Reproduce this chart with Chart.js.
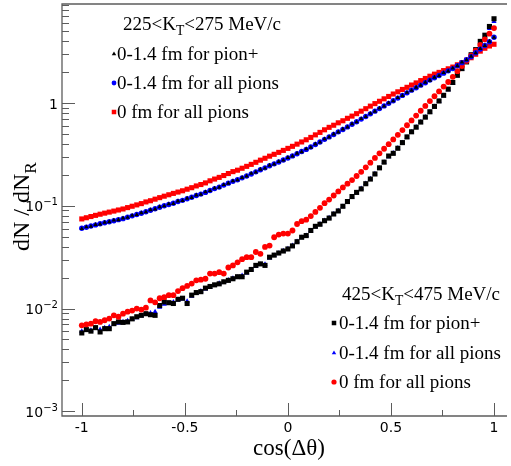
<!DOCTYPE html>
<html>
<head>
<meta charset="utf-8">
<script src="https://cdn.jsdelivr.net/npm/chart.js@4.4.0/dist/chart.umd.min.js"></script>
<style>
  html, body { margin: 0; padding: 0; background: #fff; }
</style>
</head>
<body>
<canvas id="myChart" width="511" height="466"></canvas>
<script>
// bin centres in cos(delta theta)
const cosBins = [
  -1.0000, -0.9778, -0.9556, -0.9333, -0.9111, -0.8889, -0.8667, -0.8444, -0.8222, -0.8000,
  -0.7778, -0.7556, -0.7333, -0.7111, -0.6889, -0.6667, -0.6444, -0.6222, -0.6000, -0.5778,
  -0.5556, -0.5333, -0.5111, -0.4889, -0.4667, -0.4444, -0.4222, -0.4000, -0.3778, -0.3556,
  -0.3333, -0.3111, -0.2889, -0.2667, -0.2444, -0.2222, -0.2000, -0.1778, -0.1556, -0.1333,
  -0.1111, -0.0889, -0.0667, -0.0444, -0.0222, 0.0000, 0.0222, 0.0444, 0.0667, 0.0889,
  0.1111, 0.1333, 0.1556, 0.1778, 0.2000, 0.2222, 0.2444, 0.2667, 0.2889, 0.3111,
  0.3333, 0.3556, 0.3778, 0.4000, 0.4222, 0.4444, 0.4667, 0.4889, 0.5111, 0.5333,
  0.5556, 0.5778, 0.6000, 0.6222, 0.6444, 0.6667, 0.6889, 0.7111, 0.7333, 0.7556,
  0.7778, 0.8000, 0.8222, 0.8444, 0.8667, 0.8889, 0.9111, 0.9333, 0.9556, 0.9778, 1.0000
];

// 225 < KT < 275 MeV/c
const lowKtPionPlus = [
  0.0598, 0.0622, 0.0630, 0.0656, 0.0662, 0.0690, 0.0697, 0.0722, 0.0728, 0.0757,
  0.0768, 0.0804, 0.0817, 0.0853, 0.0869, 0.0912, 0.0929, 0.0975, 0.0994, 0.104,
  0.105, 0.111, 0.112, 0.118, 0.120, 0.127, 0.129, 0.136, 0.140, 0.148,
  0.151, 0.160, 0.165, 0.174, 0.178, 0.188, 0.194, 0.206, 0.212, 0.226,
  0.232, 0.247, 0.254, 0.269, 0.277, 0.294, 0.304, 0.323, 0.335, 0.357,
  0.370, 0.398, 0.415, 0.446, 0.465, 0.498, 0.520, 0.557, 0.582, 0.626,
  0.653, 0.703, 0.735, 0.791, 0.828, 0.889, 0.932, 1.000, 1.047, 1.125,
  1.178, 1.265, 1.325, 1.419, 1.483, 1.589, 1.660, 1.775, 1.842, 1.968,
  2.042, 2.180, 2.296, 2.490, 2.625, 2.846, 3.070, 3.376, 3.608, 3.985, 4.336
];
const lowKtAllPions = [
  0.0604, 0.0619, 0.0635, 0.0652, 0.0668, 0.0684, 0.0700, 0.0716, 0.0733, 0.0750,
  0.0773, 0.0798, 0.0822, 0.0847, 0.0875, 0.0906, 0.0935, 0.0968, 0.100, 0.103,
  0.106, 0.110, 0.113, 0.117, 0.121, 0.126, 0.130, 0.135, 0.141, 0.147,
  0.152, 0.159, 0.166, 0.173, 0.179, 0.187, 0.195, 0.204, 0.214, 0.224,
  0.234, 0.245, 0.256, 0.267, 0.279, 0.292, 0.306, 0.321, 0.337, 0.354,
  0.373, 0.395, 0.418, 0.443, 0.468, 0.494, 0.524, 0.553, 0.586, 0.621,
  0.658, 0.698, 0.740, 0.785, 0.834, 0.883, 0.938, 0.993, 1.054, 1.117,
  1.186, 1.256, 1.334, 1.409, 1.493, 1.578, 1.671, 1.762, 1.854, 1.954,
  2.056, 2.163, 2.312, 2.472, 2.642, 2.825, 3.090, 3.350, 3.631, 3.954, 4.365
];
const lowKtZeroFm = [
  0.0745, 0.0765, 0.0786, 0.0807, 0.0828, 0.0848, 0.0868, 0.0888, 0.0910, 0.0931,
  0.0960, 0.0990, 0.102, 0.105, 0.109, 0.112, 0.116, 0.120, 0.124, 0.128,
  0.132, 0.136, 0.140, 0.145, 0.150, 0.156, 0.161, 0.167, 0.175, 0.182,
  0.189, 0.197, 0.206, 0.215, 0.222, 0.232, 0.242, 0.253, 0.265, 0.278,
  0.290, 0.304, 0.317, 0.331, 0.346, 0.362, 0.379, 0.398, 0.418, 0.439,
  0.463, 0.490, 0.518, 0.549, 0.580, 0.608, 0.642, 0.672, 0.710, 0.746,
  0.788, 0.833, 0.881, 0.933, 0.987, 1.040, 1.099, 1.159, 1.224, 1.286,
  1.356, 1.422, 1.497, 1.570, 1.653, 1.734, 1.823, 1.910, 1.987, 2.069,
  2.153, 2.239, 2.356, 2.472, 2.613, 2.760, 2.985, 3.199, 3.413, 3.590, 3.732
];

// 425 < KT < 475 MeV/c
const highKtPionPlus = [
  0.00579, 0.00624, 0.00603, 0.00652, 0.00592, 0.00637, 0.00637, 0.00713, 0.00741, 0.00733,
  0.00741, 0.00794, 0.00832, 0.00859, 0.00891, 0.00871, 0.00859, 0.0107, 0.0116, 0.0114,
  0.0112, 0.0123, 0.0126, 0.0112, 0.0135, 0.0143, 0.0146, 0.0158, 0.0164, 0.0170,
  0.0174, 0.0182, 0.0188, 0.0195, 0.0204, 0.0204, 0.0226, 0.0240, 0.0263, 0.0272,
  0.0263, 0.0316, 0.0331, 0.0347, 0.0363, 0.0380, 0.0407, 0.0447, 0.0494, 0.0513,
  0.0575, 0.0631, 0.0661, 0.0716, 0.0759, 0.0832, 0.0891, 0.0989, 0.110, 0.123,
  0.135, 0.146, 0.164, 0.182, 0.204, 0.234, 0.266, 0.305, 0.324, 0.363,
  0.412, 0.468, 0.525, 0.582, 0.653, 0.729, 0.822, 0.927, 1.047, 1.189,
  1.365, 1.585, 1.862, 2.163, 2.512, 2.951, 3.311, 3.981, 4.571, 5.559, 6.607
];
const highKtAllPions = [
  0.00600, 0.00610, 0.00615, 0.00640, 0.00625, 0.00650, 0.00665, 0.00700, 0.00720, 0.00745,
  0.00760, 0.00785, 0.00815, 0.00850, 0.00880, 0.00905, 0.00930, 0.0103, 0.0110, 0.0112,
  0.0116, 0.0121, 0.0124, 0.0118, 0.0132, 0.0140, 0.0148, 0.0155, 0.0161, 0.0168,
  0.0176, 0.0180, 0.0190, 0.0197, 0.0202, 0.0210, 0.0222, 0.0238, 0.0258, 0.0268,
  0.0270, 0.0310, 0.0328, 0.0345, 0.0366, 0.0382, 0.0410, 0.0450, 0.0490, 0.0515,
  0.0570, 0.0625, 0.0665, 0.0720, 0.0765, 0.0830, 0.0895, 0.0985, 0.109, 0.122,
  0.134, 0.147, 0.165, 0.183, 0.205, 0.232, 0.265, 0.300, 0.327, 0.365,
  0.410, 0.465, 0.522, 0.585, 0.655, 0.730, 0.820, 0.925, 1.040, 1.180,
  1.350, 1.570, 1.840, 2.140, 2.480, 2.900, 3.250, 3.850, 4.420, 5.300, 6.200
];
const highKtZeroFm = [
  0.00687, 0.00700, 0.00713, 0.00752, 0.00741, 0.00769, 0.00798, 0.00859, 0.00832, 0.00891,
  0.00933, 0.00955, 0.0100, 0.00977, 0.0102, 0.0120, 0.0115, 0.0126, 0.0129, 0.0135,
  0.0135, 0.0148, 0.0158, 0.0166, 0.0175, 0.0188, 0.0191, 0.0195, 0.0219, 0.0219,
  0.0226, 0.0219, 0.0251, 0.0263, 0.0282, 0.0302, 0.0316, 0.0316, 0.0355, 0.0341,
  0.0398, 0.0410, 0.0494, 0.0525, 0.0537, 0.0537, 0.0575, 0.0665, 0.0708, 0.0733,
  0.0794, 0.0871, 0.0955, 0.106, 0.115, 0.126, 0.138, 0.151, 0.164, 0.178,
  0.195, 0.214, 0.237, 0.263, 0.292, 0.324, 0.359, 0.398, 0.442, 0.490,
  0.546, 0.608, 0.678, 0.755, 0.841, 0.938, 1.045, 1.164, 1.297, 1.445,
  1.603, 1.799, 2.042, 2.291, 2.570, 2.884, 3.236, 3.673, 4.169, 4.732, 5.370
];

// axis ticks
const xMajorTicks = [-1, -0.5, 0, 0.5, 1];
const xTickLabels = ['-1', '-0.5', '0', '0.5', '1'];
const xMinorTicks = [-0.75, -0.25, 0.25, 0.75];
const yDecades = [0.001, 0.01, 0.1, 1];
const yDecadeExponents = ['-3', '-2', '-1', ''];
const yMinorSteps = [2, 3, 4, 5, 6, 7, 8, 9];

const SERIF = '"Liberation Serif", "Times New Roman", serif';
const SANS = '"DejaVu Sans", sans-serif';
const AXIS_GREY = '#5c5c5c';

function toPoints(values) {
    return cosBins.map((x, i) => ({ x: x, y: values[i] }));
}

// text with sub/superscript pieces, returns width
function drawRich(ctx, x, y, parts, size, family, measureOnly) {
    let cx = x;
    parts.forEach(p => {
        const s = (p.sub || p.sup) ? size * 0.72 : size;
        ctx.font = `${s}px ${family}`;
        const dy = p.sub ? size * 0.28 : p.sup ? -size * 0.42 : 0;
        if (!measureOnly) ctx.fillText(p.t, cx, y + dy);
        cx += ctx.measureText(p.t).width;
    });
    return cx - x;
}

const legendBlocks = [
    {
        title: [{ t: '225<K' }, { t: 'T', sub: true }, { t: '<275 MeV/c' }],
        titleX: 123, titleY: 30, markerX: 114, textX: 117,
        rows: [
            { y: 60, text: '0-1.4 fm for pion+', color: '#000', style: 'triangle', r: 2.6 },
            { y: 89, text: '0-1.4 fm for all pions', color: '#0000ff', style: 'circle', r: 2.4 },
            { y: 118, text: '0 fm for all pions', color: '#ff0000', style: 'rect', r: 3.2 }
        ]
    },
    {
        title: [{ t: '425<K' }, { t: 'T', sub: true }, { t: '<475 MeV/c' }],
        titleX: 342, titleY: 300, markerX: 334, textX: 339,
        rows: [
            { y: 329, text: '0-1.4 fm for pion+', color: '#000', style: 'rect', r: 3.2 },
            { y: 359, text: '0-1.4 fm for all pions', color: '#0000ff', style: 'triangle', r: 2.6 },
            { y: 388, text: '0 fm for all pions', color: '#ff0000', style: 'circle', r: 2.6 }
        ]
    }
];

// ROOT-like frame, inward ticks, labels and legends
const rootFrame = {
    id: 'rootFrame',
    afterDraw(chart) {
        const { ctx, chartArea: a, scales: { x, y } } = chart;
        ctx.save();
        ctx.strokeStyle = AXIS_GREY;
        ctx.lineWidth = 1.3;
        ctx.beginPath();
        ctx.moveTo(a.right, a.top); ctx.lineTo(a.left, a.top);
        ctx.lineTo(a.left, a.bottom); ctx.lineTo(a.right, a.bottom);
        ctx.stroke();

        ctx.lineWidth = 1;
        ctx.beginPath();
        xMajorTicks.forEach(v => {
            const px = Math.round(x.getPixelForValue(v)) + 0.5;
            ctx.moveTo(px, a.bottom); ctx.lineTo(px, a.bottom - 13);
        });
        xMinorTicks.forEach(v => {
            const px = Math.round(x.getPixelForValue(v)) + 0.5;
            ctx.moveTo(px, a.bottom); ctx.lineTo(px, a.bottom - 6);
        });
        yDecades.forEach(d => {
            const py = Math.round(y.getPixelForValue(d)) + 0.5;
            ctx.moveTo(a.left, py); ctx.lineTo(a.left + 13, py);
            yMinorSteps.forEach(m => {
                const v = d * m;
                if (v > y.max) return;
                const pm = Math.round(y.getPixelForValue(v)) + 0.5;
                ctx.moveTo(a.left, pm); ctx.lineTo(a.left + 7, pm);
            });
        });
        ctx.stroke();

        // tick labels
        ctx.fillStyle = '#000';
        ctx.textBaseline = 'alphabetic';
        ctx.textAlign = 'center';
        ctx.font = `14px ${SANS}`;
        xMajorTicks.forEach((v, i) => {
            ctx.fillText(xTickLabels[i], x.getPixelForValue(v), 432);
        });
        ctx.textAlign = 'left';
        yDecades.forEach((d, i) => {
            const py = y.getPixelForValue(d) + 5.5;
            const parts = yDecadeExponents[i] ? [{ t: '10' }, { t: '\u2212' + yDecadeExponents[i].slice(1), sup: true }] : [{ t: '1' }];
            const w = drawRich(ctx, 0, 0, parts, 14, SANS, true);
            drawRich(ctx, a.left - 4 - w, py, parts, 14, SANS);
        });

        // axis titles
        ctx.textAlign = 'left';
        const xt = [{ t: 'cos(\u0394\u03b8)' }];
        const xw = drawRich(ctx, 0, 0, xt, 23, SERIF, true);
        drawRich(ctx, 289 - xw / 2, 455, xt, 23, SERIF);

        ctx.save();
        ctx.translate(29, 251);
        ctx.rotate(-Math.PI / 2);
        drawRich(ctx, 0, 0, [{ t: 'dN / dN' }, { t: 'R', sub: true }], 24, SERIF);
        ctx.restore();

        // legends
        legendBlocks.forEach(b => {
            ctx.fillStyle = '#000';
            drawRich(ctx, b.titleX, b.titleY, b.title, 19, SERIF);
            b.rows.forEach(r => {
                ctx.fillStyle = r.color;
                ctx.strokeStyle = r.color;
                Chart.helpers.drawPoint(ctx, { pointStyle: r.style, radius: r.r, rotation: 0, borderWidth: 0 }, b.markerX, r.y - 6);
                ctx.fillStyle = '#000';
                ctx.font = `19px ${SERIF}`;
                ctx.fillText(r.text, b.textX, r.y);
            });
        });
        ctx.restore();
    }
};

function series(values, color, style, radius, order) {
    return {
        data: toPoints(values),
        showLine: false,
        pointStyle: style,
        pointRadius: radius,
        pointBackgroundColor: color,
        pointBorderColor: color,
        pointBorderWidth: 0,
        order: order
    };
}

const ctx = document.getElementById('myChart').getContext('2d');
new Chart(ctx, {
    type: 'scatter',
    data: {
        datasets: [
            series(lowKtZeroFm, '#ff0000', 'rect', 3.6, 3),
            series(lowKtAllPions, '#0000ff', 'circle', 2.7, 2),
            series(lowKtPionPlus, '#000000', 'triangle', 2.6, 1),
            series(highKtZeroFm, '#ff0000', 'circle', 2.9, 4),
            series(highKtAllPions, '#0000ff', 'triangle', 3.0, 6),
            series(highKtPionPlus, '#000000', 'rect', 3.6, 5)
        ]
    },
    options: {
        responsive: false,
        animation: false,
        events: [],
        layout: { padding: { left: 62, right: 0, top: 2, bottom: 50 } },
        plugins: {
            legend: { display: false },
            tooltip: { enabled: false }
        },
        scales: {
            x: { type: 'linear', min: -1.096, max: 1.063, display: false },
            y: { type: 'logarithmic', min: 0.0009, max: 9.2, display: false }
        }
    },
    plugins: [rootFrame]
});
</script>
</body>
</html>
